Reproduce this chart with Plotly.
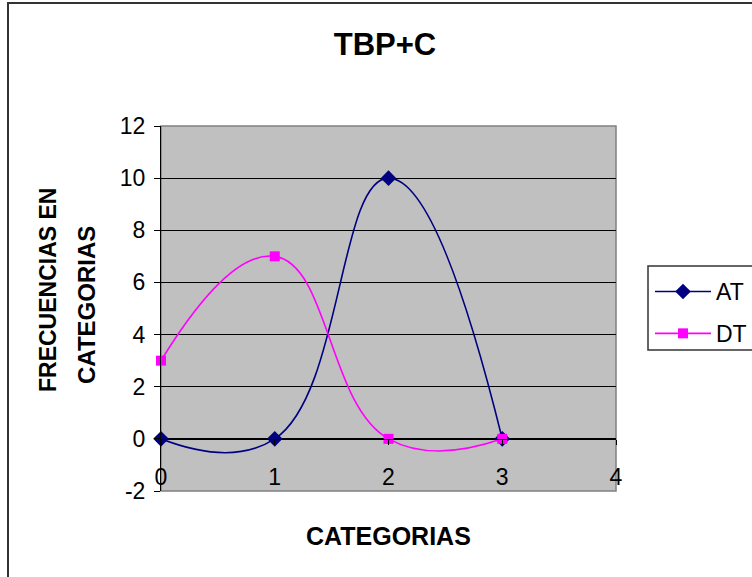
import plotly.graph_objects as go

categories = [0, 1, 2, 3]
at_values = [0, 0, 10, 0]
dt_values = [3, 7, 0, 0]
x_ticks = [0, 1, 2, 3, 4]
y_ticks = [-2, 0, 2, 4, 6, 8, 10, 12]
y_tick_labels = ["-2", "0", "2", "4", "6", "8", "10", "12"]

W, H = 752, 577
L, R, T, B = 161, 616, 126, 491
FONT = "Arial, Liberation Sans, sans-serif"

def px(x):
    return (x - L) / (R - L)

def py(y):
    return (B - y) / (B - T)

fig = go.Figure()
fig.add_trace(go.Scatter(
    x=categories, y=at_values, name="AT", mode="lines+markers",
    line=dict(color="#000080", width=1.6, shape="spline", smoothing=1.3),
    marker=dict(symbol="diamond", size=12, color="#000080"),
    legendgroup="a", cliponaxis=False,
))
fig.add_trace(go.Scatter(
    x=categories, y=dt_values, name="DT", mode="lines+markers",
    line=dict(color="#FF00FF", width=1.6, shape="spline", smoothing=1.3),
    marker=dict(symbol="square", size=10, color="#FF00FF"),
    legendgroup="b", cliponaxis=False,
))

fig.update_layout(
    width=W, height=H,
    margin=dict(l=L, r=W - R, t=T, b=H - B, pad=0, autoexpand=False),
    paper_bgcolor="white", plot_bgcolor="#C0C0C0",
    font=dict(family=FONT, color="black", size=23),
    title=dict(text="<b>TBP+C</b>", x=385 / W, xanchor="center",
               y=1 - 44 / H, yanchor="middle", font=dict(size=31)),
    showlegend=True,
    legend=dict(x=px(650), xanchor="left", y=py(270), yanchor="top",
                bgcolor="rgba(0,0,0,0)", borderwidth=0, itemwidth=56,
                font=dict(size=23), traceorder="grouped", tracegroupgap=9),
    xaxis=dict(range=[0, 4], tickvals=x_ticks, showgrid=False, zeroline=False,
               showline=True, linecolor="black", linewidth=1,
               ticks="outside", ticklen=5, tickcolor="black",
               anchor="free", position=2 / 14, ticklabelstandoff=13),
    yaxis=dict(range=[-2, 12], tickvals=y_ticks, ticktext=y_tick_labels,
               showgrid=True, gridcolor="black", gridwidth=1, zeroline=False,
               showline=True, linecolor="black", linewidth=1,
               ticks="outside", ticklen=6, tickcolor="black",
               ticklabelstandoff=4),
    shapes=[
        dict(type="rect", xref="paper", yref="paper", x0=0, x1=1, y0=0, y1=1,
             line=dict(color="#808080", width=1.5), layer="below"),
        dict(type="rect", xref="paper", yref="paper",
             x0=px(8), x1=px(820), y0=py(3), y1=py(640),
             line=dict(color="#333333", width=2)),
        dict(type="rect", xref="paper", yref="paper",
             x0=px(648), x1=px(800), y0=py(266), y1=py(350),
             line=dict(color="#333333", width=1.5)),
    ],
    annotations=[
        dict(text="<b>FRECUENCIAS EN</b>", xref="paper", yref="paper",
             x=px(48), y=py(290), textangle=-90, showarrow=False,
             xanchor="center", yanchor="middle", font=dict(size=23)),
        dict(text="<b>CATEGORIAS</b>", xref="paper", yref="paper",
             x=px(86), y=py(305), textangle=-90, showarrow=False,
             xanchor="center", yanchor="middle", font=dict(size=24)),
        dict(text="<b>CATEGORIAS</b>", xref="paper", yref="paper",
             x=px(388), y=py(536), showarrow=False,
             xanchor="center", yanchor="middle", font=dict(size=25)),
    ],
)

fig.write_html("out.html")
